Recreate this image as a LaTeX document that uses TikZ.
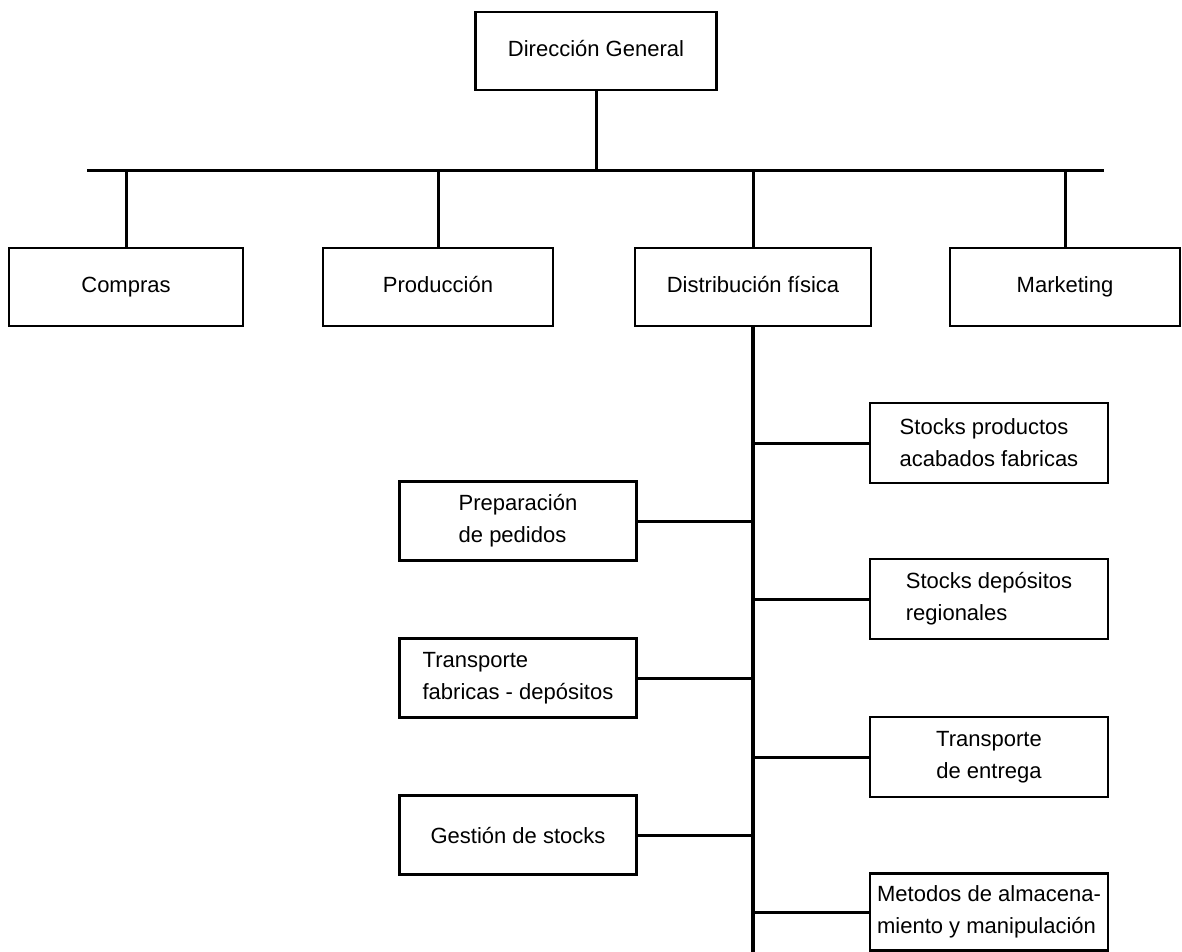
\documentclass[tikz,border=0pt]{standalone}
\usepackage{fontspec}
\setmainfont{Liberation Sans}
\usepackage{tikz}
\usetikzlibrary{positioning, calc}
\tikzset{
  box/.style     = {draw, rectangle, line width=2.6pt, inner sep=2pt},
  unit/.style    = {box, minimum width=234pt, minimum height=78pt,
                    text height=16pt, text depth=5pt},
  subunit/.style = {box, minimum width=237pt, minimum height=79pt,
                    align=left},
  rsub/.style    = {subunit, minimum width=238pt, minimum height=80pt},
  link/.style    = {line width=3pt},
  spine/.style   = {line width=3.6pt},
}

\begin{document}
\begin{tikzpicture}[x=1pt, y=-1pt,
  every node/.style = {font=\fontsize{22}{32}\selectfont}]
  \useasboundingbox (0,0) rectangle (1182,952);

  % top of the chart and the four departments
  \node[unit, minimum width=241pt] (dg)   at (596,51)  {Dirección General};
  \node[unit]                      (comp) at (126,287) {Compras};
  \node[unit, minimum width=230pt] (prod) at (438,287) {Producción};
  \node[unit, minimum width=236pt] (dist) at (753,287) {Distribución física};
  \node[unit, minimum width=230pt] (mkt)  at (1065,287) {Marketing};

  \coordinate (busL) at (87,171);
  \coordinate (busR) at (1104,171);
  \coordinate (spineEnd) at (753,952);

  % functions under distribution, left side
  \node[subunit] (prep) at (518,521) {Preparación\\de pedidos};
  \node[subunit] (tfd)  at (518,678) {Transporte\\fabricas - depósitos};
  \node[subunit] (gest) at (518,835) {Gestión de stocks};

  % right side
  \node[rsub]               (spf) at (989,443) {Stocks productos\\acabados fabricas};
  \node[rsub]               (sdr) at (989,599) {Stocks depósitos\\regionales};
  \node[rsub, align=center] (tde) at (989,757) {Transporte\\de entrega};
  \node[rsub, minimum height=77pt]
                            (mam) at (989,912) {Metodos de almacena-\\miento y manipulación};

  \draw[link] (dg) -- (dg |- busL);
  \draw[link] (busL) -- (busR);
  \foreach \n in {comp, prod, dist, mkt}
    \draw[link] (\n.north) -- (\n.north |- busL);

  \draw[spine] (dist.south) -- (spineEnd);
  \foreach \n in {prep, tfd, gest}
    \draw[link] (\n.east) -- (\n.east -| spineEnd);
  \foreach \n in {spf, sdr, tde, mam}
    \draw[link] (\n.west) -- (\n.west -| spineEnd);
\end{tikzpicture}
\end{document}
